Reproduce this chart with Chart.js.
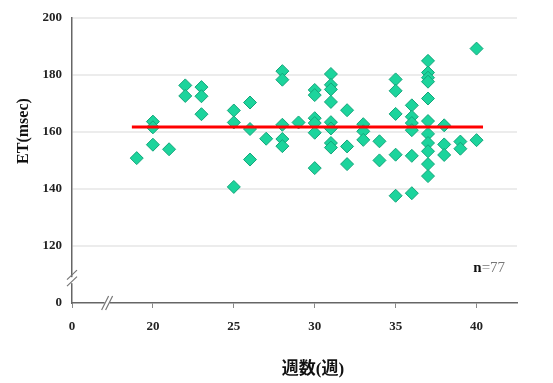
<!DOCTYPE html>
<html>
<head>
<meta charset="utf-8">
<script src="https://cdn.jsdelivr.net/npm/chart.js@4/dist/chart.umd.min.js"></script>
<style>
html,body{margin:0;padding:0;background:#fff;}
#wrap{width:553px;height:383px;position:relative;}
</style>
</head>
<body>
<div id="wrap"><canvas id="c" width="553" height="383"></canvas></div>
<script>
// ---- data ----
const weeks = [
  19,
  20,20,20,
  21,
  22,22,
  23,23,23,
  25,25,25,
  26,26,26,
  27,
  28,28,28,28,28,
  29,
  30,30,30,30,30,30,
  31,31,31,31,31,31,31,31,
  32,32,32,
  33,33,33,
  34,34,
  35,35,35,35,35,
  36,36,36,36,36,36,
  37,37,37,37,37,37,37,37,37,37,37,
  38,38,38,
  39,39,
  40,40
];
const etValues = [
  150.8,
  163.6,161.6,155.5,
  153.9,
  176.3,172.6,
  175.7,172.5,166.2,
  167.5,163.3,140.7,
  170.3,161.0,150.3,
  157.6,
  181.3,178.3,162.5,157.5,155.0,
  163.3,
  174.7,172.9,164.8,163.1,159.7,147.3,
  180.3,176.5,174.9,170.5,163.4,161.2,156.1,154.5,
  167.6,154.9,148.7,
  162.7,160.2,157.2,
  156.7,150.0,
  178.4,174.4,166.3,152.0,137.6,
  169.3,165.3,163.1,160.6,151.6,138.5,
  184.9,180.8,179.0,177.6,171.7,163.8,159.3,156.1,153.2,148.7,144.5,
  162.3,155.6,151.9,
  156.6,154.1,
  189.2,157.1
];
const meanX = [18.7, 40.4];
const meanValue = 161.7;
const xTickValues = [15, 20, 25, 30, 35, 40];
const xTickLabels = ["0", "20", "25", "30", "35", "40"];
const yTickValues = [100, 120, 140, 160, 180, 200];
const yTickLabels = ["0", "120", "140", "160", "180", "200"];
const yTitle = "ET(msec)";
const xTitle = "週数(週)";
const nLabelBold = "n";
const nLabelRest = "=77";
const xBreakValue = 17.2;   // axis-break position on x
const yBreakValue = 108;    // axis-break position on y
const nLabelPos = {x: 39.8, y: 110.8};

const scatterPoints = weeks.map((w, i) => ({x: w, y: etValues[i]}));
const meanPoints = meanX.map(x => ({x: x, y: meanValue}));

const serif = "'Liberation Serif','Times New Roman',serif";

const decor = {
  id: 'decor',
  afterDraw(chart) {
    const ctx = chart.ctx;
    const xs = chart.scales.x, ys = chart.scales.y;
    const ax = xs.getPixelForValue(xs.min);
    const ay = ys.getPixelForValue(ys.min);
    ctx.save();
    // y-axis break
    const yb = ys.getPixelForValue(yBreakValue);
    ctx.fillStyle = '#fff';
    ctx.fillRect(ax - 2, yb - 3, 4, 6);
    ctx.strokeStyle = '#777';
    ctx.lineWidth = 1.2;
    ctx.beginPath();
    ctx.moveTo(ax - 5, yb - 0.5); ctx.lineTo(ax + 5, yb - 10);
    ctx.moveTo(ax - 5, yb + 6); ctx.lineTo(ax + 5, yb - 3.5);
    ctx.stroke();
    // x-axis break
    const xb = xs.getPixelForValue(xBreakValue);
    ctx.fillRect(xb - 3, ay - 2, 5, 4);
    ctx.beginPath();
    ctx.moveTo(xb - 6, ay + 7); ctx.lineTo(xb + 1, ay - 7);
    ctx.moveTo(xb - 2, ay + 7); ctx.lineTo(xb + 5, ay - 7);
    ctx.stroke();
    // n=77
    const nx = xs.getPixelForValue(nLabelPos.x);
    const ny = ys.getPixelForValue(nLabelPos.y);
    ctx.textBaseline = 'alphabetic';
    ctx.textAlign = 'left';
    ctx.font = "bold 15px " + serif;
    ctx.fillStyle = '#111';
    ctx.fillText(nLabelBold, nx, ny);
    const w = ctx.measureText(nLabelBold).width;
    ctx.font = "15px " + serif;
    ctx.fillStyle = '#777';
    ctx.fillText(nLabelRest, nx + w, ny);
    // axis titles
    ctx.fillStyle = '#111';
    ctx.textAlign = 'center';
    ctx.textBaseline = 'middle';
    ctx.font = "bold 16px " + serif;
    ctx.translate(24, 131);
    ctx.rotate(-Math.PI / 2);
    ctx.fillText(yTitle, 0, 0);
    ctx.setTransform(1, 0, 0, 1, 0, 0);
    ctx.font = "bold 17px " + serif + ",'Noto Sans CJK JP'";
    ctx.fillText(xTitle, 313, 370);
    ctx.restore();
  }
};

new Chart(document.getElementById('c'), {
  data: {
    datasets: [
      {
        type: 'line',
        data: meanPoints,
        borderColor: '#ff0000',
        borderWidth: 3,
        pointRadius: 0,
        fill: false,
        order: 0
      },
      {
        type: 'scatter',
        data: scatterPoints,
        pointStyle: 'rectRot',
        pointRadius: 6.5,
        pointHoverRadius: 6.5,
        backgroundColor: 'rgb(28, 212, 156)',
        borderColor: 'rgb(20, 165, 122)',
        borderWidth: 1,
        order: 1
      }
    ]
  },
  options: {
    responsive: false,
    animation: false,
    events: [],
    layout: {padding: {top: 13, right: 36, bottom: 0, left: 0}},
    plugins: {legend: {display: false}, tooltip: {enabled: false}},
    scales: {
      x: {
        type: 'linear',
        min: 15,
        max: 42.5,
        afterFit(s) { s.height = 80; },
        afterBuildTicks(s) { s.ticks = xTickValues.map(v => ({value: v})); },
        ticks: {
          callback: (v) => xTickLabels[xTickValues.indexOf(v)],
          font: {family: serif, size: 13, weight: 'bold'},
          color: '#222',
          padding: 11,
          maxRotation: 0
        },
        grid: {drawOnChartArea: false, drawTicks: true, tickLength: 5, color: '#888'},
        border: {color: '#666', width: 1.5}
      },
      y: {
        type: 'linear',
        min: 100,
        max: 200,
        afterFit(s) { s.width = 72; },
        afterBuildTicks(s) { s.ticks = yTickValues.map(v => ({value: v})); },
        ticks: {
          callback: (v) => yTickLabels[yTickValues.indexOf(v)],
          font: {family: serif, size: 13, weight: 'bold'},
          color: '#222',
          padding: 10
        },
        grid: {
          drawTicks: false,
          lineWidth: 2,
          color: (c) => (c.tick && c.tick.value === 100) ? 'rgba(0,0,0,0)' : '#ececec'
        },
        border: {color: '#666', width: 1.5}
      }
    }
  },
  plugins: [decor]
});
</script>
</body>
</html>
